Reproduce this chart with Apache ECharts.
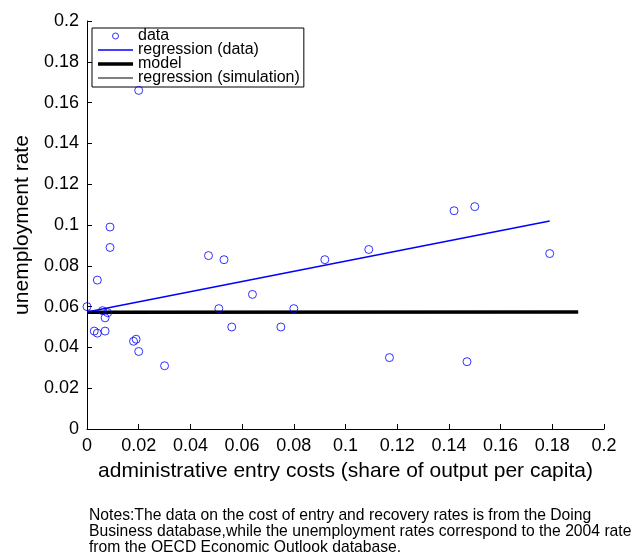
<!DOCTYPE html>
<html>
<head>
<meta charset="utf-8">
<script src="https://cdn.jsdelivr.net/npm/echarts@6/dist/echarts.min.js"></script>
<style>
  html, body { margin: 0; padding: 0; background: #fff; }
  #chart { width: 631px; height: 560px; }
</style>
</head>
<body>
<div id="chart"></div>
<script>
// scatter: administrative entry costs vs unemployment rate
var costX = [0, 0.0089, 0.0089, 0.004, 0.006, 0.008, 0.007, 0.0028, 0.004, 0.007,
  0.018, 0.019, 0.020, 0.030, 0.047, 0.053, 0.051, 0.056, 0.064, 0.075,
  0.092, 0.109, 0.142, 0.150, 0.179, 0.080, 0.117, 0.147, 0.020];
var unempY = [0.060, 0.099, 0.089, 0.073, 0.058, 0.057, 0.0545, 0.048, 0.047, 0.048,
  0.043, 0.044, 0.038, 0.031, 0.085, 0.083, 0.059, 0.050, 0.066, 0.050,
  0.083, 0.088, 0.107, 0.109, 0.086, 0.059, 0.035, 0.033, 0.166];

// fitted lines (end points)
var regDataX = [0, 0.179];
var regDataY = [0.0573, 0.102];
var modelX = [0, 0.19];
var modelY = [0.0572, 0.0573];
var regSimX = [0, 0.19];
var regSimY = [0.0572, 0.0572];

var font = "'Liberation Sans', Arial, Helvetica, sans-serif";

function pairs(xs, ys) {
  var out = [];
  for (var i = 0; i < xs.length; i++) {
    out.push([xs[i], ys[i]]);
  }
  return out;
}

function tickFmt(v) {
  return String(+v.toFixed(2));
}

var chart = echarts.init(document.getElementById('chart'));
chart.setOption({
  animation: false,
  backgroundColor: '#fff',
  grid: {
    left: 87,
    top: 21,
    width: 517,
    height: 408
  },
  xAxis: {
    type: 'value',
    min: 0,
    max: 0.2,
    interval: 0.02,
    name: 'administrative entry costs (share of output per capita)',
    nameLocation: 'middle',
    nameGap: 32,
    nameTextStyle: { color: '#000', fontSize: 21, fontFamily: font },
    axisLine: { lineStyle: { color: '#000', width: 1 } },
    axisTick: { inside: true, length: 5, lineStyle: { color: '#000' } },
    axisLabel: { color: '#000', fontSize: 18, fontFamily: font, margin: 8, formatter: tickFmt },
    splitLine: { show: false }
  },
  yAxis: {
    type: 'value',
    min: 0,
    max: 0.2,
    interval: 0.02,
    name: 'unemployment rate',
    nameLocation: 'middle',
    nameGap: 51,
    nameTextStyle: { color: '#000', fontSize: 21, fontFamily: font },
    axisLine: { show: true, lineStyle: { color: '#000', width: 1 } },
    axisTick: { show: true, inside: true, length: 5, lineStyle: { color: '#000' } },
    axisLabel: { color: '#000', fontSize: 18, fontFamily: font, margin: 8, formatter: tickFmt },
    splitLine: { show: false }
  },
  legend: {
    orient: 'vertical',
    left: 92,
    top: 28,
    padding: [0, 4, 1, 6],
    itemGap: -2,
    itemWidth: 35,
    itemHeight: 6,
    backgroundColor: '#fff',
    borderColor: '#000',
    borderWidth: 1,
    borderRadius: 0,
    selectedMode: false,
    textStyle: { color: '#000', fontSize: 16, lineHeight: 14, fontFamily: font },
    data: [
      { name: 'data', icon: 'circle', itemStyle: { color: '#fff', borderColor: '#0000ff', borderWidth: 1 } },
      { name: 'regression (data)', icon: 'path://M0 0H35V1.5H0Z', itemStyle: { color: '#0000ff', borderWidth: 0 } },
      { name: 'model', icon: 'path://M0 0H35V3.5H0Z', itemStyle: { color: '#000', borderWidth: 0 } },
      { name: 'regression (simulation)', icon: 'path://M0 0H35V1.2H0Z', itemStyle: { color: '#000', borderWidth: 0 } }
    ]
  },
  series: [
    {
      name: 'regression (simulation)',
      type: 'line',
      data: pairs(regSimX, regSimY),
      symbol: 'none',
      color: '#000',
      lineStyle: { color: '#000', width: 1 },
      z: 1
    },
    {
      name: 'model',
      type: 'line',
      data: pairs(modelX, modelY),
      symbol: 'none',
      color: '#000',
      lineStyle: { color: '#000', width: 3.5 },
      z: 2
    },
    {
      name: 'regression (data)',
      type: 'line',
      data: pairs(regDataX, regDataY),
      symbol: 'none',
      color: '#0000ff',
      lineStyle: { color: '#0000ff', width: 1.5 },
      z: 3
    },
    {
      name: 'data',
      type: 'scatter',
      data: pairs(costX, unempY),
      symbol: 'circle',
      symbolSize: 8,
      itemStyle: { color: 'rgba(255,255,255,0)', borderColor: '#0000ff', borderWidth: 1 },
      z: 4
    }
  ],
  graphic: [
    {
      type: 'text',
      left: 89,
      top: 508,
      style: {
        text: 'Notes:The data on the cost of entry and recovery rates is from the Doing\n' +
          'Business database,while the unemployment rates correspond to the 2004 rates\n' +
          'from the OECD Economic Outlook database.',
        font: '15.7px ' + font,
        lineHeight: 16,
        fill: '#000'
      }
    }
  ]
});
</script>
</body>
</html>
